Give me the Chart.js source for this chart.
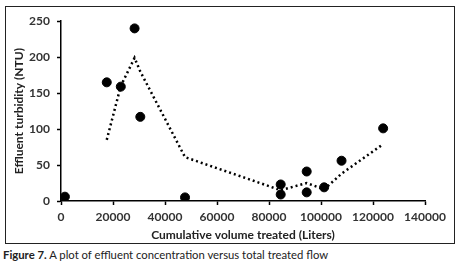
<!DOCTYPE html>
<html>
<head>
<meta charset="utf-8">
<script src="https://cdn.jsdelivr.net/npm/chart.js@4/dist/chart.umd.min.js"></script>
<style>
  body { margin: 0; background: #fff; }
  #box { position: absolute; left: 5px; top: 6px; width: 448px; height: 236px; border: 1.5px solid #222; }
  #cap { position: absolute; left: 3px; top: 248px; font: 11.3px Lato, sans-serif; color: #222; white-space: nowrap; }
</style>
</head>
<body>
<div id="box"><canvas id="c" width="448" height="236"></canvas></div>
<div id="cap"><b>Figure 7.</b> A plot of effluent concentration versus total treated flow</div>
<script>
"use strict";

// measured points
var volume    = [1500, 17600, 23000, 28300, 30500, 47700, 84500, 84500, 94500, 94500, 101200, 107900, 123900];
var turbidity = [6, 165, 159, 240, 117, 5, 23, 9, 41, 12, 19, 56, 101];

// dotted trend line
var trendX = [17600, 23000, 28300, 30500, 47700, 84500, 94500, 101200, 107900, 123900];
var trendY = [85, 160, 199, 180, 61, 15, 25, 16, 38, 79];

var xTicks = [0, 20000, 40000, 60000, 80000, 100000, 120000, 140000];
var yTicks = [0, 50, 100, 150, 200, 250];

var pts = [], trend = [];
for (var i = 0; i < volume.length; i++) pts.push({x: volume[i], y: turbidity[i]});
for (var j = 0; j < trendX.length; j++) trend.push({x: trendX[j], y: trendY[j]});

var tickFont = {family: 'Lato', size: 12, weight: 'bold'};

var ctx = document.getElementById("c").getContext("2d");
var myChart = new Chart(ctx, {
  type: 'scatter',
  data: {
    datasets: [
      {
        label: 'Effluent turbidity',
        data: pts,
        backgroundColor: '#000',
        borderColor: '#000',
        pointRadius: 4.5,
        showLine: false
      },
      {
        label: 'Trend',
        data: trend,
        showLine: true,
        borderColor: '#000',
        borderWidth: 2.5,
        borderDash: [2, 3],
        pointRadius: 0,
        fill: false
      }
    ]
  },
  options: {
    responsive: false,
    animation: false,
    layout: {padding: {top: 14, right: 29, left: 0, bottom: 0}},
    plugins: {legend: {display: false}, tooltip: {enabled: false}},
    scales: {
      x: {
        type: 'linear',
        min: 0, max: 140000,
        afterBuildTicks: function(s) { s.ticks = xTicks.map(function(v){ return {value: v}; }); },
        afterFit: function(s) { s.height = 42; },
        grid: {display: true, drawOnChartArea: false, drawTicks: true, tickLength: 4, tickWidth: 1.5, tickColor: '#000'},
        border: {display: true, color: '#000', width: 1.5},
        ticks: {color: '#333', font: tickFont, padding: 5, maxRotation: 0, autoSkip: false,
          callback: function(v) { return String(v); }},
        title: {display: true, text: 'Cumulative volume treated (Liters)', color: '#222', font: tickFont, padding: {top: 0, bottom: 1}}
      },
      y: {
        min: 0, max: 250,
        afterBuildTicks: function(s) { s.ticks = yTicks.map(function(v){ return {value: v}; }); },
        afterFit: function(s) { s.width = 55; },
        grid: {display: true, drawOnChartArea: false, drawTicks: true, tickLength: 4, tickWidth: 1.5, tickColor: '#000'},
        border: {display: true, color: '#000', width: 1.5},
        ticks: {color: '#333', font: tickFont, padding: 7,
          callback: function(v) { return String(v); }},
        title: {display: true, text: 'Effluent turbidity (NTU)', color: '#222', font: tickFont, padding: {top: 6, bottom: 0}}
      }
    }
  }
});
</script>
</body>
</html>
